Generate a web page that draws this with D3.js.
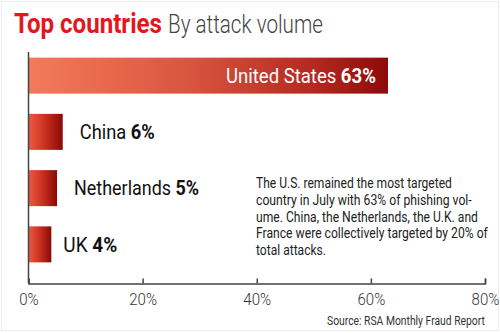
<!DOCTYPE html>
<html><head><meta charset="utf-8">
<script src="https://cdn.jsdelivr.net/npm/d3@7"></script>
<style>
body{margin:0;background:#fff;}
svg{display:block;}
text{font-family:"Roboto",sans-serif;}
</style></head>
<body><svg id="c" width="500" height="333"></svg>
<script>
const countries = ["United States","China","Netherlands","UK"];
const values = [63,6,5,4];
const ticks = [0,20,40,60,80];
const tickLabels = ["0%","20%","40%","60%","80%"];
const note = ["The U.S. remained the most targeted","country in July with 63% of phishing vol-","ume. China, the Netherlands, the U.K. and","France were collectively targeted by 20% of","total attacks."];

const svg = d3.select("#c");
svg.append("rect").attr("x",1.5).attr("y",1.5).attr("width",497).attr("height",329)
  .attr("fill","#fff").attr("stroke","#ececec");

// condense a text element horizontally to a target width
function condense(textSel, x0, width, anchor){
  const w = textSel.node().getComputedTextLength();
  const s = Math.min(1, width / w);
  const xl = anchor==="end" ? x0 - w*s : x0;
  textSel.attr("x",0).attr("text-anchor","start");
  textSel.attr("transform",`translate(${xl},0) scale(${s},1)`);
}

const defs = svg.append("defs");
const g1 = defs.append("linearGradient").attr("id","gbig").attr("x1","0").attr("x2","1").attr("y1","0").attr("y2","0");
g1.append("stop").attr("offset","0").attr("stop-color","#f47a5c");
g1.append("stop").attr("offset","0.45").attr("stop-color","#d9553e");
g1.append("stop").attr("offset","0.8").attr("stop-color","#b3281f");
g1.append("stop").attr("offset","1").attr("stop-color","#8c0a0a");
const g2 = defs.append("linearGradient").attr("id","gsm").attr("x1","0").attr("x2","1").attr("y1","0").attr("y2","0");
g2.append("stop").attr("offset","0").attr("stop-color","#ee5a42");
g2.append("stop").attr("offset","0.5").attr("stop-color","#c8301f");
g2.append("stop").attr("offset","1").attr("stop-color","#8a0808");

const x = d3.scaleLinear().domain([0,80]).range([28.5,485]);
const y = d3.scaleBand().domain(countries).range([52,268]).paddingInner(0.36).paddingOuter(0.1);

// title
const t1 = svg.append("text").attr("y",33).text("Top countries").attr("font-weight","bold")
  .attr("fill","#e2181f").attr("font-size",27);
condense(t1,14,148);
const t2 = svg.append("text").attr("y",33).text("By attack volume").attr("fill","#444")
  .attr("font-size",25).attr("font-weight",300);
condense(t2,168,155);

// bars
svg.selectAll("rect.bar").data(countries).enter().append("rect").attr("class","bar")
  .attr("x",x(0)).attr("y",d=>y(d)).attr("height",y.bandwidth())
  .attr("width",(d,i)=>x(values[i])-x(0))
  .attr("fill",(d,i)=>i===0?"url(#gbig)":"url(#gsm)");

// labels
const labelW = [150,75,125,54];
countries.forEach((c,i)=>{
  const inside = i===0;
  const tx = svg.append("text")
    .attr("y",y(c)+y.bandwidth()/2).attr("dy","0.36em")
    .attr("font-size",20)
    .attr("fill",inside?"#fff":"#111");
  tx.append("tspan").text(c+" ").attr("font-weight",400);
  tx.append("tspan").text(values[i]+"%").attr("font-weight",700);
  if(inside) condense(tx, x(values[i])-12, labelW[i], "end");
  else condense(tx, x(values[i])+ (i===3?12:17), labelW[i]);
});

// axes
svg.append("line").attr("x1",x(0)).attr("x2",x(0)).attr("y1",52).attr("y2",283.5).attr("stroke","#444").attr("stroke-width",1.5);
const ax = d3.axisBottom(x).tickValues(ticks).tickSize(-5).tickPadding(10).tickFormat((d,i)=>tickLabels[i]);
const axg = svg.append("g").attr("transform","translate(0,283.5)").call(ax);
axg.select(".domain").attr("stroke","#444").attr("stroke-width",1.5);
axg.selectAll(".tick line").attr("stroke","#444").attr("stroke-width",1.5);
axg.selectAll(".tick text").attr("font-size",16).attr("fill","#333").attr("font-weight",300)
  .attr("transform","scale(0.94,1)");

// note
const noteW = [196,216,222,232,70];
note.forEach((l,i)=>{
  const tl = svg.append("text").attr("y",188+i*16.8).attr("font-size",15).attr("fill","#222").text(l);
  condense(tl,256,noteW[i]);
});

// source
const src = svg.append("text").attr("y",325).attr("font-size",13)
  .attr("fill","#333").text("Source: RSA Monthly Fraud Report");
condense(src,485,158,"end");
</script></body></html>
